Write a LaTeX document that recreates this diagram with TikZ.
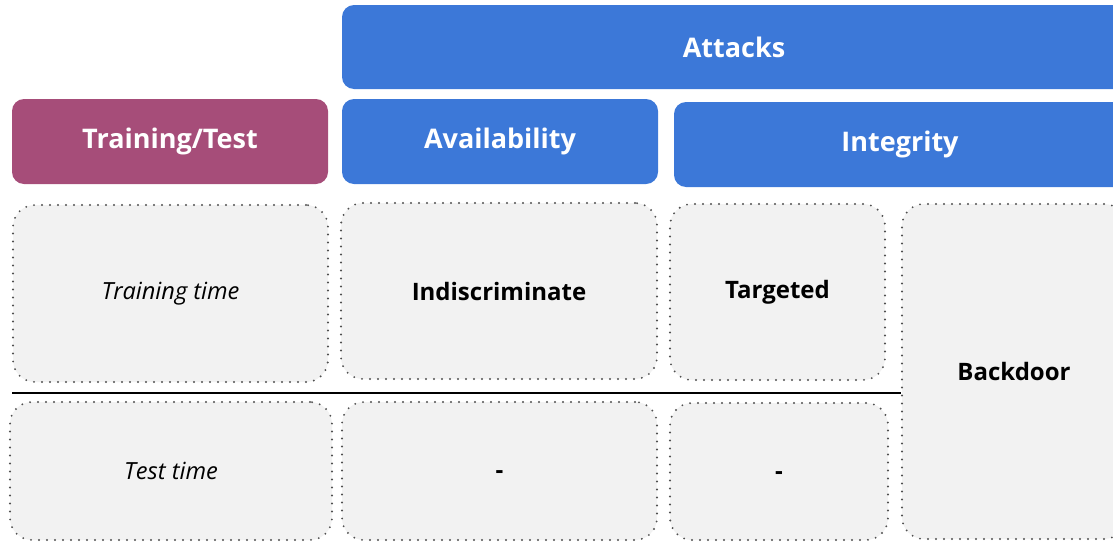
\documentclass[tikz,border=0pt]{standalone}
\usepackage{fontspec}
\setmainfont{Open Sans}
\definecolor{hblue}{HTML}{3C78D8}
\definecolor{hpurple}{HTML}{A64D79}
\definecolor{cellgray}{HTML}{F2F2F2}
\definecolor{dotgray}{HTML}{505050}
\tikzset{
  head/.style={rounded corners=12pt, fill=hblue, text=white, inner sep=0pt,
    font=\bfseries\fontsize{27}{32}\selectfont},
  cell/.style={rounded corners=22pt, fill=cellgray, draw=dotgray, line width=2.1pt,
    dash pattern=on 0pt off 8pt, line cap=round, inner sep=0pt, text=black,
    font=\fontsize{24}{29}\selectfont},
  boldcell/.style={cell, font=\bfseries\fontsize{24}{29}\selectfont},
  itcell/.style={cell, font=\itshape\fontsize{23.6}{28}\selectfont},
  dashcell/.style={boldcell, text height=15pt, text depth=0pt},
}
\begin{document}
\begin{tikzpicture}[x=1pt,y=-1pt]
\useasboundingbox (0,0) rectangle (1113,541);
\clip (0,0) rectangle (1113,541);
% headers
\node[head, minimum width=784pt, minimum height=84pt] (att) at (734,47) {Attacks};
\node[head, fill=hpurple, minimum width=316pt, minimum height=85pt] (tt) at (170,141.5) {Training/Test};
\node[head, minimum width=316pt, minimum height=85pt] (av) at (500,141.5) {Availability};
\node[head, minimum width=452pt, minimum height=85pt] (in) at (900,144.5) {Integrity};
% cells
\node[itcell, minimum width=315pt, minimum height=177pt] (trt) at (170.5,293.5) {Training time};
\node[boldcell, minimum width=316pt, minimum height=176pt] (ind) at (499,291) {Indiscriminate};
\node[boldcell, minimum width=215pt, minimum height=176pt] (tar) at (777.5,292) {Targeted};
\node[boldcell, minimum width=224pt, minimum height=335pt] (bd) at (1014,371.5) {Backdoor};
\node[itcell, minimum width=322pt, minimum height=138pt] (tst) at (171,471) {Test time};
\node[dashcell, minimum width=315pt, minimum height=138pt] (d1) at (499.5,471) {-};
\node[dashcell, minimum width=218pt, minimum height=137pt] (d2) at (779,471.5) {-};
% separator
\coordinate (ls) at (12,393);
\draw[line width=1.8pt] (ls) -- (bd.west |- ls);
\end{tikzpicture}
\end{document}
